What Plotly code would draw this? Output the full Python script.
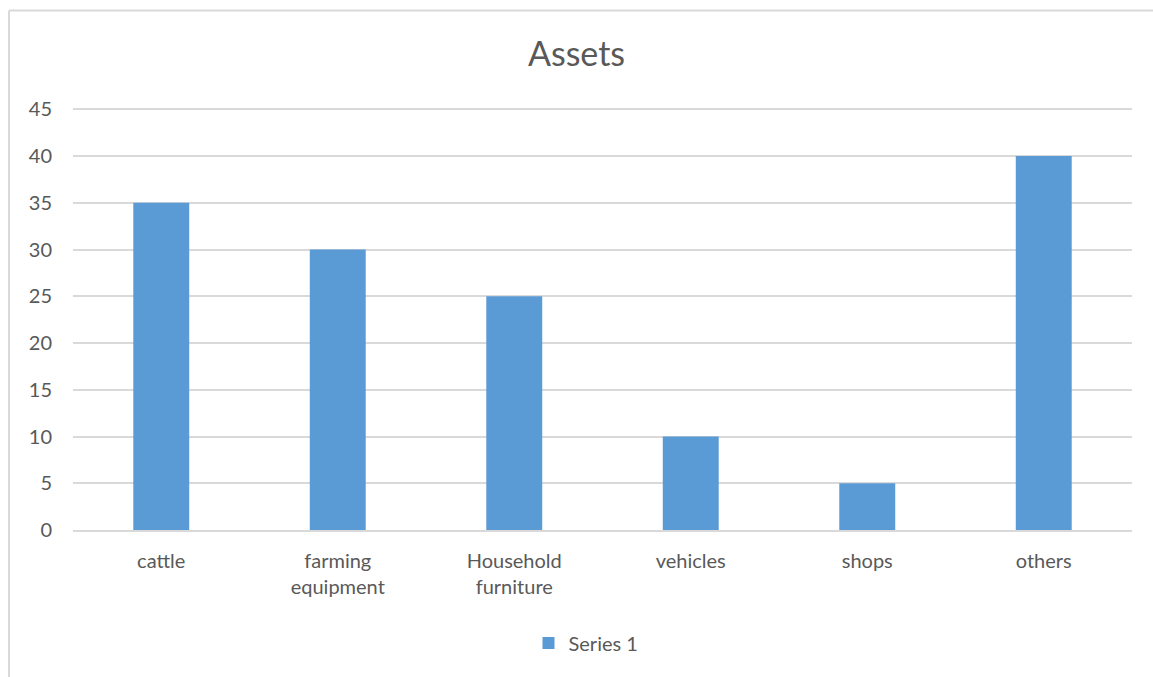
import plotly.graph_objects as go

categories = ["cattle", "farming<br>equipment", "Household<br>furniture", "vehicles", "shops", "others"]
values = [35, 30, 25, 10, 5, 40]
series_name = "Series 1"
y_ticks = [0, 5, 10, 15, 20, 25, 30, 35, 40, 45]

W, H = 1153, 677
Y_MAX = 46
L, R, B = 73, 1132, 530
T = B - Y_MAX * (530 - 109) / 45  # so that 45 sits at pixel 109

def px_x(p):
    return (p - L) / (R - L)

def px_y(p):
    return (B - p) / (B - T)

font_family = "Lato, 'Open Sans', sans-serif"
gray = "#595959"
grid = "#d9d9d9"

fig = go.Figure()
fig.add_trace(go.Bar(x=categories, y=values, name=series_name, marker_color="#5b9bd5",
                     marker_line_width=0, showlegend=True))

fig.update_layout(
    width=W, height=H,
    margin=dict(l=L, r=W - R, t=T, b=H - B),
    paper_bgcolor="white", plot_bgcolor="white",
    bargap=0.683,
    font=dict(family=font_family, color=gray, size=20),
    title=dict(text="Assets", x=0.5, xanchor="center", y=1 - 54 / H, yanchor="middle",
               font=dict(size=34, color=gray, family=font_family)),
    showlegend=True,
    legend=dict(orientation="h", x=px_x(586), xanchor="center", y=px_y(643), yanchor="middle",
                font=dict(size=20, color=gray), itemwidth=30),
    xaxis=dict(showgrid=False, showline=True, linecolor=grid, linewidth=2,
               ticks="", ticklabelstandoff=12, tickfont=dict(size=20, color=gray)),
    yaxis=dict(range=[0, Y_MAX], tickvals=y_ticks, showgrid=True, gridcolor=grid, gridwidth=1.5,
               zeroline=False, showline=False, ticks="", ticklabelstandoff=20,
               tickfont=dict(size=20, color=gray)),
)

# chart-area frame (left and top edges visible)
fig.add_shape(type="line", xref="paper", yref="paper", x0=px_x(9), x1=px_x(9), y0=px_y(10), y1=px_y(690),
              line=dict(color=grid, width=2))
fig.add_shape(type="line", xref="paper", yref="paper", x0=px_x(9), x1=px_x(1160), y0=px_y(10), y1=px_y(10),
              line=dict(color=grid, width=2))

fig.write_html("out.html")
